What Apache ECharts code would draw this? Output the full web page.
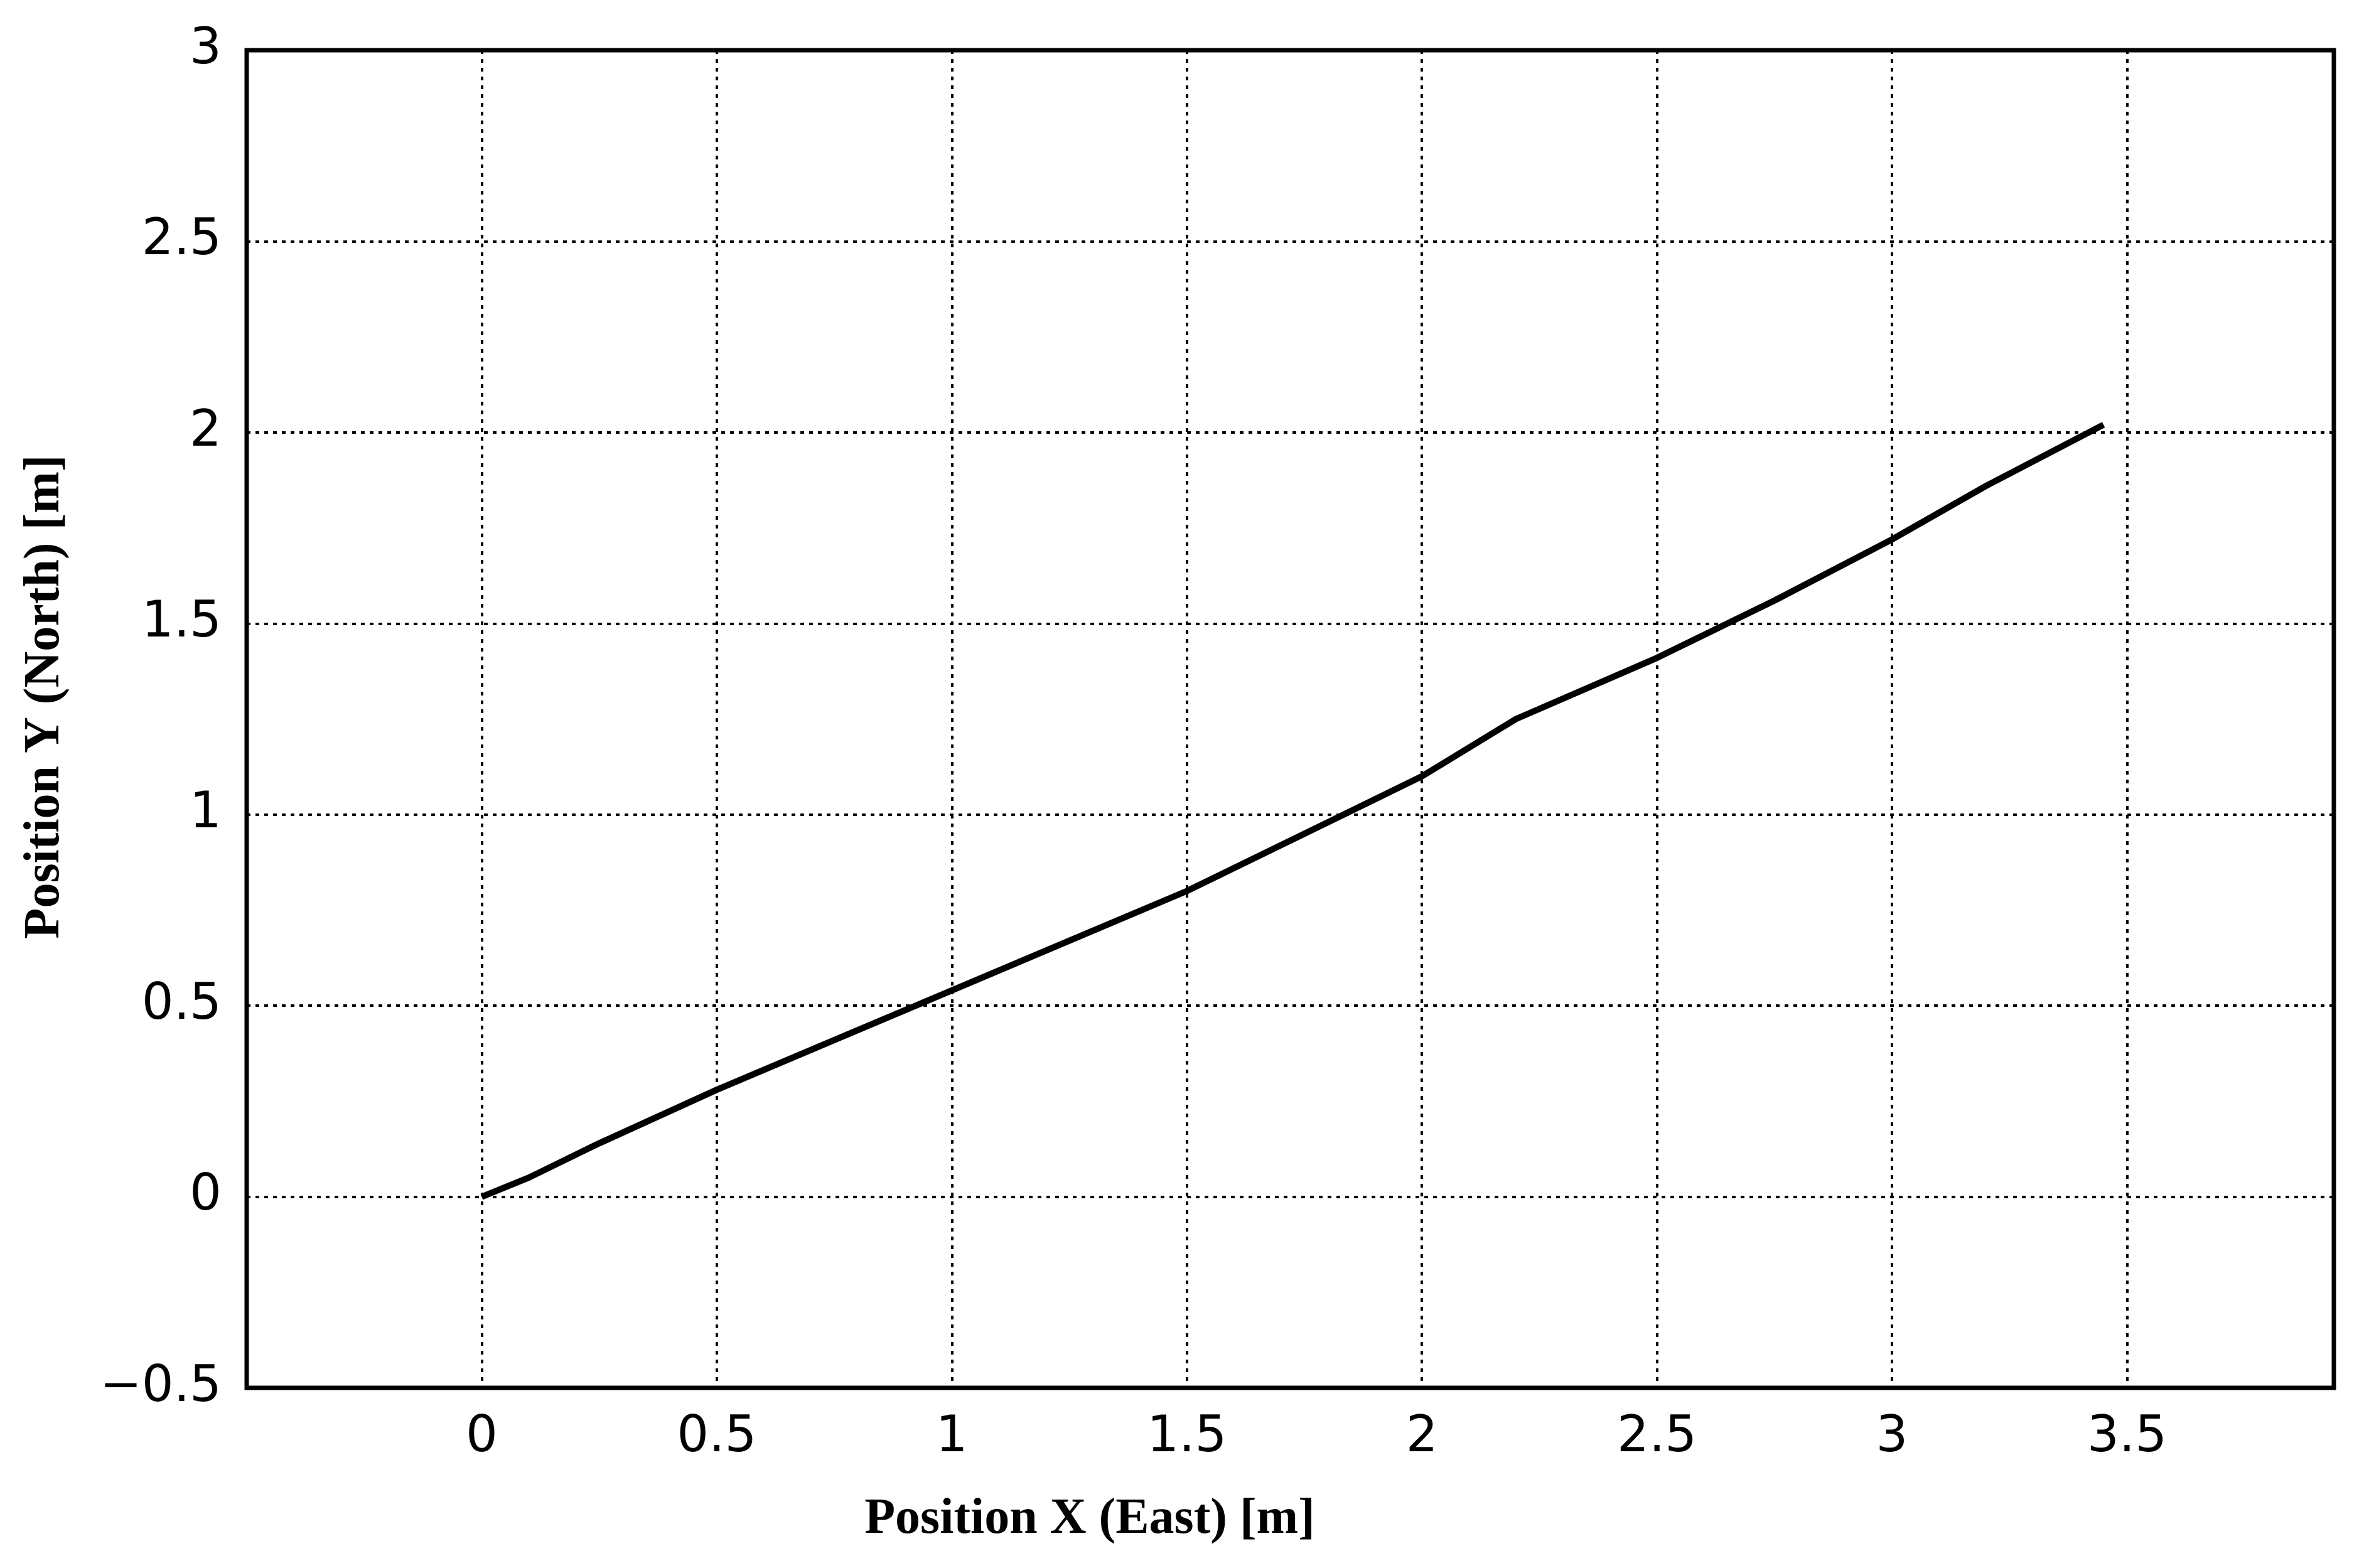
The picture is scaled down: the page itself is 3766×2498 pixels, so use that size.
<!DOCTYPE html>
<html><head><meta charset="utf-8">
<script src="https://cdn.jsdelivr.net/npm/echarts@6/dist/echarts.min.js"></script>
<style>html,body{margin:0;padding:0;background:#fff}#c{width:3766px;height:2498px}</style>
</head><body><div id="c"></div>
<script>
const xVals = [0, 0.1, 0.25, 0.5, 0.75, 1, 1.25, 1.5, 1.65, 1.8, 2, 2.2, 2.5, 2.75, 3, 3.2, 3.45];
const yVals = [0, 0.05, 0.14, 0.28, 0.41, 0.54, 0.67, 0.8, 0.89, 0.98, 1.1, 1.25, 1.41, 1.56, 1.72, 1.86, 2.02];
const xTitle = 'Position X (East) [m]';
const yTitle = 'Position Y (North) [m]';
const chart = echarts.init(document.getElementById('c'));
const titleStyle = {fontFamily:'Liberation Serif', fontWeight:'bold', fontSize:80, fill:'#000'};
chart.setOption({
  animation:false,
  grid:{left:393, right:48, top:80, bottom:287, show:true, borderColor:'#000', borderWidth:7},
  graphic:[
    {type:'text', x:1736, y:2421, style:Object.assign({text:xTitle, align:'center', verticalAlign:'middle'}, titleStyle)},
    {type:'text', x:72, y:1110, rotation:Math.PI/2, style:Object.assign({text:yTitle, align:'center', verticalAlign:'middle'}, titleStyle)}
  ],
  xAxis:{type:'value', min:-0.5, max:3.94, interval:0.5,
    axisLine:{show:false}, axisTick:{show:false},
    axisLabel:{fontFamily:'DejaVu Sans', fontSize:80, color:'#000', margin:40,
      formatter:v=>(v<0||v>3.6)?'':String(v)},
    splitLine:{show:true, lineStyle:{type:[6,8], color:'#000', width:4}}},
  yAxis:{type:'value', min:-0.5, max:3, interval:0.5,
    axisLine:{show:false}, axisTick:{show:false},
    axisLabel:{fontFamily:'DejaVu Sans', fontSize:80, color:'#000', margin:40,
      formatter:v=>String(v).replace('-','\u2212')},
    splitLine:{show:true, lineStyle:{type:[6,8], color:'#000', width:4}}},
  series:[{type:'line', data:xVals.map((x,i)=>[x,yVals[i]]), symbol:'none',
    lineStyle:{color:'#000', width:10}}]
});
</script></body></html>
